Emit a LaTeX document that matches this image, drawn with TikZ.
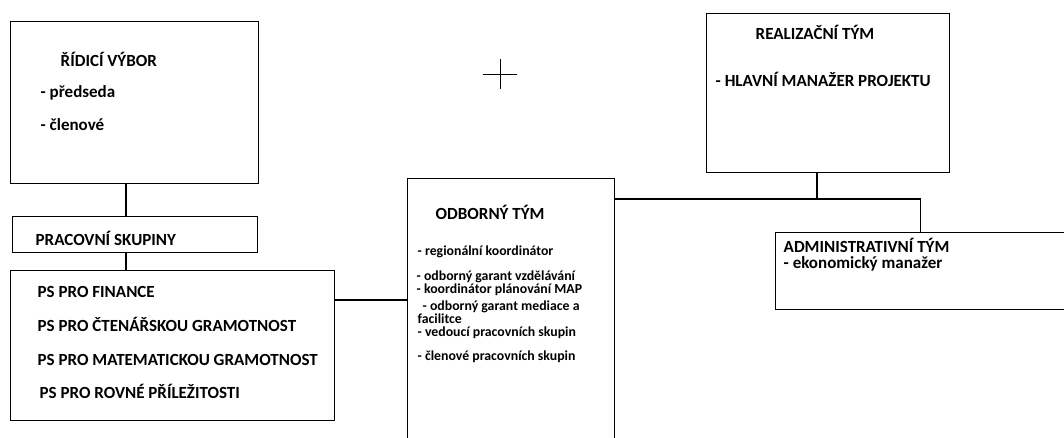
\documentclass[tikz,border=0pt]{standalone}
\usepackage{fontspec}
\setmainfont{Carlito}
\usepackage{tikz}

\tikzset{
	box/.style={draw, line width=1.4pt, rectangle, inner sep=0pt, anchor=north west},
	txt/.style={anchor=base west, inner sep=0pt, font=\fontsize{17}{20}\selectfont\bfseries},
	smalltxt/.style={anchor=base west, inner sep=0pt, font=\fontsize{13.8}{16}\selectfont\bfseries}
}

\begin{document}
\begin{tikzpicture}[x=1pt, y=-1pt, line width=1.4pt]
		\useasboundingbox (0,0) rectangle (1064,437);
		\clip (0,0) rectangle (1064,437);
		% left column: steering committee and working groups
		\begin{scope}
			\node[box, minimum width=248pt, minimum height=162pt] (rv) at (10,21) {};
			\node[txt] (rvt) at (60,66) {ŘÍDICÍ VÝBOR};
			\node[txt] (rv1) at (40,97) {- předseda};
			\node[txt] (rv2) at (40,130) {- členové};
			\node[box, minimum width=245pt, minimum height=36pt] (prac) at (12,216) {};
			\node[txt] (pract) at (35,245) {PRACOVNÍ SKUPINY};
			\node[box, minimum width=324pt, minimum height=150pt] (ps) at (10,270) {};
			\node[txt] (ps1) at (37,297) {PS PRO FINANCE};
			\node[txt] (ps2) at (37,331) {PS PRO ČTENÁŘSKOU GRAMOTNOST};
			\node[txt] (ps3) at (37,365) {PS PRO MATEMATICKOU GRAMOTNOST};
			\node[txt] (ps4) at (39,398) {PS PRO ROVNÉ PŘÍLEŽITOSTI};
		\end{scope}
		% middle: expert team
		\begin{scope}
			\node[box, minimum width=207pt, minimum height=290pt] (odb) at (407,178) {};
			\node[txt] (odbt) at (435,219) {ODBORNÝ TÝM};
			\node[smalltxt] (odb1) at (417,255) {- regionální koordinátor};
			\node[smalltxt] (odb2) at (416,280) {- odborný garant vzdělávání};
			\node[smalltxt] (odb3) at (416,293) {- koordinátor plánování MAP};
			\node[smalltxt] (odb4) at (422,310) {- odborný garant mediace a};
			\node[smalltxt] (odb5) at (417,323) {facilitce};
			\node[smalltxt] (odb6) at (417,336) {- vedoucí pracovních skupin};
			\node[smalltxt] (odb7) at (417,360) {- členové pracovních skupin};
		\end{scope}
		% right: implementation and administrative team
		\begin{scope}
			\node[box, minimum width=243pt, minimum height=159pt] (real) at (706,13) {};
			\node[txt] (realt) at (755,39) {REALIZAČNÍ TÝM};
			\node[txt] (real1) at (715,86) {- HLAVNÍ MANAŽER PROJEKTU};
			\node[box, minimum width=290pt, minimum height=77pt] (adm) at (775,232) {};
			\node[txt] (admt) at (783,252) {ADMINISTRATIVNÍ TÝM};
			\node[txt] (adm1) at (783,268) {- ekonomický manažer};
		\end{scope}
		% connectors
		\coordinate (jv) at (126,0);
		\coordinate (jl) at (0,300);
		\coordinate (jr) at (817,199);
		\draw (rv.south -| jv) -- (prac.north -| jv);
		\draw (prac.south -| jv) -- (ps.north -| jv);
		\draw (ps.east |- jl) -- (odb.west |- jl);
		\draw (odb.east |- jr) -| (adm.north);
		\draw (real.south -| jr) -- (jr);
		% cross mark
		\coordinate (cr) at (500,74);
		\draw[line width=1pt] (cr) ++(-17,0) -- ++(34,0);
		\draw[line width=1pt] (cr) ++(0,-15) -- ++(0,30);
	\end{tikzpicture}
\end{document}
